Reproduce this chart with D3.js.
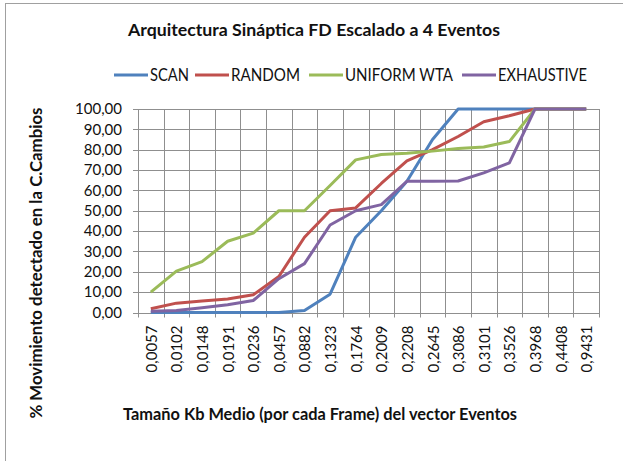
<!DOCTYPE html>
<html>
<head>
<title>Arquitectura Sináptica FD</title>
<script type="text/javascript" src="https://d3js.org/d3.v7.min.js"></script>
<style>
  body { margin: 0; background: #fff; }
  svg { font-family: "Lato", "Open Sans", sans-serif; }
</style>
</head>
<body>
<div class="chart"></div>
<script type="text/javascript">

    // data
    const categories = ["0,0057","0,0102","0,0148","0,0191","0,0236","0,0457","0,0882","0,1323","0,1764",
                        "0,2009","0,2208","0,2645","0,3086","0,3101","0,3526","0,3968","0,4408","0,9431"];
    const scan       = [0, 0, 0, 0, 0, 0, 1, 9, 37, 50, 64.5, 85, 100, 100, 100, 100, 100, 100];
    const random     = [1.8, 4.6, 5.6, 6.6, 8.7, 17.7, 37, 50, 51.4, 63.4, 74.5, 80, 86.5, 93.7, 96.7, 100, 100, 100];
    const uniformWta = [10, 20.3, 25, 35, 39, 50, 50, 62.4, 75, 77.6, 78.2, 79.3, 80.6, 81.3, 84, 100, 100, 100];
    const exhaustive = [0.6, 1, 2.3, 3.8, 5.9, 16.6, 24, 43, 50, 53, 64.5, 64.5, 64.6, 68.6, 73.5, 100, 100, 100];
    const yTicks = [0, 10, 20, 30, 40, 50, 60, 70, 80, 90, 100];

    const series = [
        {name: "SCAN", values: scan, color: "#4F81BD"},
        {name: "RANDOM", values: random, color: "#C0504D"},
        {name: "UNIFORM WTA", values: uniformWta, color: "#9BBB59"},
        {name: "EXHAUSTIVE", values: exhaustive, color: "#8064A2"}
    ];

    const W = 623, H = 461;
    const margin = {top: 109, right: 24, bottom: 148.5, left: 138};
    const width = W - margin.left - margin.right,
        height = H - margin.top - margin.bottom;

    const root = d3.select(".chart").append("svg")
        .attr("width", W)
        .attr("height", H);

    // sheet border behind the chart
    root.append("line").attr("x1", 5).attr("x2", W).attr("y1", 3.5).attr("y2", 3.5)
        .attr("stroke", "#a0a0a0");
    root.append("line").attr("x1", 5.5).attr("x2", 5.5).attr("y1", 3).attr("y2", H)
        .attr("stroke", "#a0a0a0");

    const svg = root.append("g")
        .attr("transform", "translate(" + margin.left + "," + margin.top + ")");

    const xScale = d3.scaleBand()
        .domain(categories)
        .range([0, width])
        .padding(0);

    const yScale = d3.scaleLinear()
        .domain([0, 100])
        .range([height, 0]);

    const fmt = v => d3.format(".2f")(v).replace(".", ",");

    // horizontal gridlines
    svg.selectAll(".hgrid")
        .data(yTicks)
        .enter()
        .append("line")
        .attr("class", "hgrid")
        .attr("x1", -5)
        .attr("x2", width)
        .attr("y1", d => Math.round(yScale(d)) + 0.5)
        .attr("y2", d => Math.round(yScale(d)) + 0.5)
        .attr("stroke", "#8f8f8f")
        .attr("stroke-width", 1);

    // vertical gridlines at category edges
    const edges = categories.map(c => xScale(c)).concat([width]);
    svg.selectAll(".vgrid")
        .data(edges)
        .enter()
        .append("line")
        .attr("class", "vgrid")
        .attr("x1", d => Math.round(d) + 0.5)
        .attr("x2", d => Math.round(d) + 0.5)
        .attr("y1", 0)
        .attr("y2", height + 5)
        .attr("stroke", "#8f8f8f")
        .attr("stroke-width", 1);

    // y axis labels
    svg.selectAll(".ylab")
        .data(yTicks)
        .enter()
        .append("text")
        .attr("class", "ylab")
        .attr("x", -16)
        .attr("y", d => yScale(d))
        .attr("dy", "0.35em")
        .attr("text-anchor", "end")
        .attr("font-size", 15)
        .attr("fill", "#111")
        .text(fmt);

    // x axis labels, rotated
    svg.selectAll(".xlab")
        .data(categories)
        .enter()
        .append("text")
        .attr("class", "xlab")
        .attr("transform", d => "translate(" + (xScale(d) + xScale.bandwidth() / 2 + 6) + "," + (height + 13) + ") rotate(-90)")
        .attr("text-anchor", "end")
        .attr("font-size", 15)
        .attr("fill", "#111")
        .text(d => d);

    // lines
    const line = d3.line()
        .x((d, i) => xScale(categories[i]) + xScale.bandwidth() / 2)
        .y(d => yScale(d));

    svg.selectAll(".series")
        .data(series)
        .enter()
        .append("path")
        .attr("class", "series")
        .attr("d", d => line(d.values))
        .attr("fill", "none")
        .attr("stroke", d => d.color)
        .attr("stroke-width", 3)
        .attr("stroke-linejoin", "round");

    // title
    root.append("text")
        .attr("x", 128)
        .attr("y", 36)
        .attr("font-size", 17)
        .attr("font-weight", "bold")
        .attr("fill", "#111")
        .attr("textLength", 372)
        .attr("lengthAdjust", "spacingAndGlyphs")
        .text("Arquitectura Sináptica FD Escalado a 4 Eventos");

    // legend
    const legendX = [114, 195, 309, 462];
    const legendW = [39, 69, 108, 89];
    const legend = root.selectAll(".legend")
        .data(series)
        .enter()
        .append("g")
        .attr("class", "legend")
        .attr("transform", (d, i) => "translate(" + legendX[i] + ",75)");

    legend.append("line")
        .attr("x1", 0).attr("x2", 34)
        .attr("y1", 0).attr("y2", 0)
        .attr("stroke", d => d.color)
        .attr("stroke-width", 3);

    legend.append("text")
        .attr("x", 36)
        .attr("y", 6)
        .attr("font-size", 17)
        .attr("fill", "#111")
        .attr("textLength", (d, i) => legendW[i])
        .attr("lengthAdjust", "spacingAndGlyphs")
        .text(d => d.name);

    // axis titles
    root.append("text")
        .attr("transform", "translate(42,263) rotate(-90)")
        .attr("text-anchor", "middle")
        .attr("font-size", 17)
        .attr("font-weight", "bold")
        .attr("fill", "#111")
        .attr("textLength", 311)
        .attr("lengthAdjust", "spacingAndGlyphs")
        .text("% Movimiento detectado en la C.Cambios");

    root.append("text")
        .attr("x", 123)
        .attr("y", 420)
        .attr("font-size", 17)
        .attr("font-weight", "bold")
        .attr("fill", "#111")
        .attr("textLength", 394)
        .attr("lengthAdjust", "spacingAndGlyphs")
        .text("Tamaño Kb Medio (por cada Frame) del vector Eventos");

</script>
</body>
</html>
